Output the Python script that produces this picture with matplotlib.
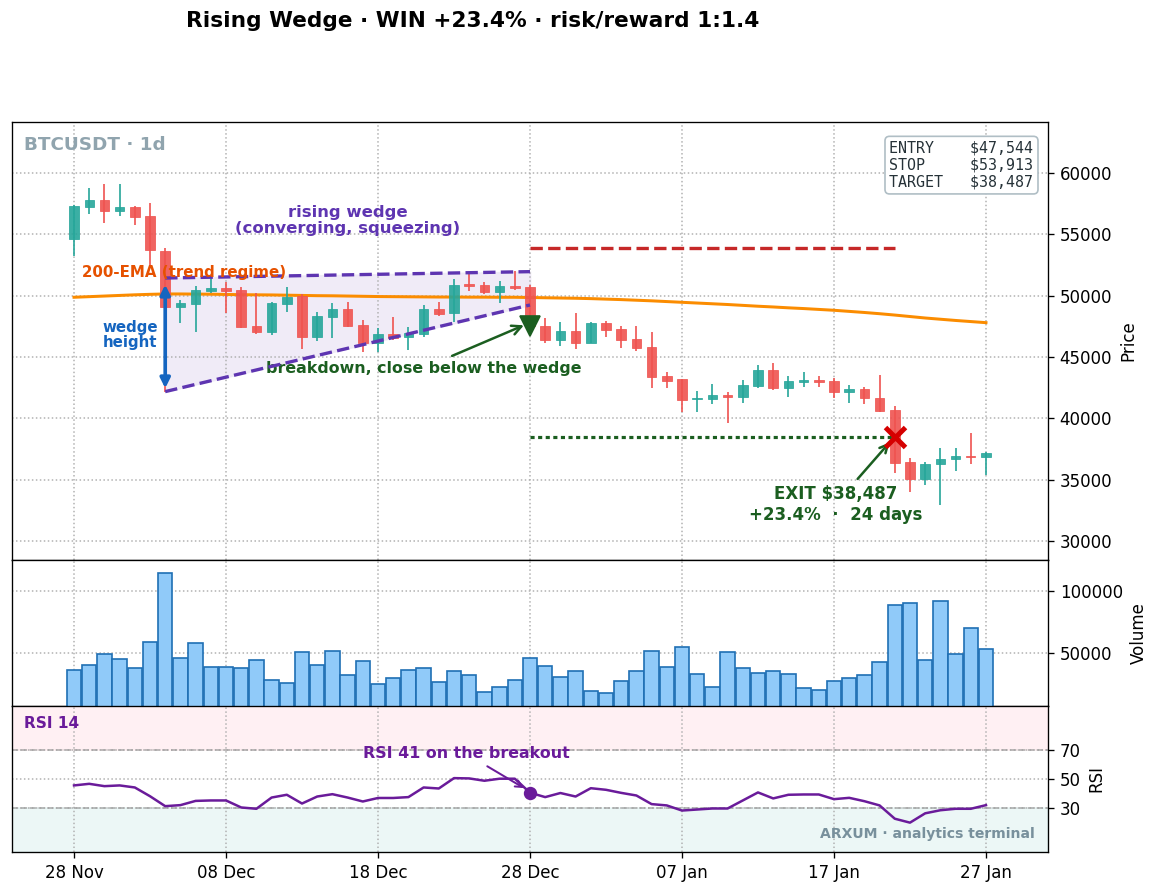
import matplotlib
matplotlib.use("Agg")
import matplotlib.pyplot as plt
import matplotlib.dates as mdates
import numpy as np
import pandas as pd

# ---- data ----
dates = pd.date_range("2021-11-28", periods=61, freq="D")

opens = [54650, 57250, 57800, 56930, 57230, 56500, 53640, 49100, 49320, 50410,
         50650, 50470, 47560, 47020, 49320, 49980, 46660, 48290, 48920, 47590,
         46120, 46880, 46660, 46880, 48920, 48570, 50930, 50870, 50330, 50790,
         50730, 47530, 46390, 47120, 46170, 47750, 47290, 46470, 45800, 43460,
         43190, 41560, 41610, 41910, 41770, 42670, 43940, 42500, 42990, 43130,
         43070, 42180, 42400, 41640, 40690, 36450, 35040, 36260, 36670, 36940,
         36830]
highs = [57400, 58800, 59100, 59080, 57320, 57580, 53860, 49650, 50820, 51420,
         51140, 50730, 50200, 49500, 50730, 50140, 48700, 49430, 49510, 48020,
         47340, 48290, 47470, 49240, 49510, 51340, 51830, 51140, 51200, 52040,
         50870, 48160, 47880, 48570, 47880, 47960, 47530, 47530, 47070, 43810,
         43190, 42260, 42780, 42130, 43130, 44350, 44490, 43460, 43760, 43460,
         43270, 42720, 42580, 43540, 41010, 36800, 36470, 37560, 37560, 38840,
         37250]
lows = [53240, 56660, 55950, 56500, 55760, 52400, 42180, 47750, 47070, 50200,
        48570, 47340, 46880, 46800, 48700, 45660, 46330, 46530, 47470, 45440,
        45440, 46390, 45580, 46660, 48350, 47880, 50410, 50140, 49430, 50470,
        47200, 46120, 45900, 45630, 46170, 46610, 45710, 45490, 42450, 42450,
        40550, 40550, 41170, 39600, 41230, 42450, 42320, 41720, 42540, 42540,
        41640, 41230, 41170, 40550, 35530, 34030, 34570, 32940, 35740, 36280,
        35390]
closes = [57310, 57800, 56930, 57230, 56440, 53700, 49100, 49430, 50470, 50650,
          50410, 47470, 47070, 49430, 49920, 46660, 48350, 48920, 47530, 46120,
          46880, 46530, 46940, 48890, 48510, 50870, 50820, 50280, 50790, 50630,
          47544, 46390, 47150, 46170, 47800, 47210, 46390, 45760, 43400, 43070,
          41500, 41690, 41910, 41770, 42720, 43940, 42500, 43050, 43130, 42990,
          42180, 42370, 41640, 40630, 36390, 35040, 36260, 36670, 36940, 36830,
          37210]
ema200 = [49870, 49920, 49970, 50020, 50070, 50110, 50140, 50140, 50130, 50120,
          50100, 50080, 50070, 50060, 50040, 50020, 50000, 49990, 49970, 49950,
          49930, 49920, 49910, 49900, 49890, 49890, 49880, 49880, 49870, 49870,
          49850, 49830, 49810, 49790, 49760, 49720, 49680, 49630, 49580, 49520,
          49460, 49400, 49340, 49280, 49210, 49140, 49080, 49010, 48950, 48880,
          48810, 48720, 48630, 48530, 48420, 48300, 48180, 48080, 47980, 47890,
          47800]
volume = [35990, 40110, 49180, 45060, 37640, 59070, 114280, 45880, 58240, 38460,
          38460, 37640, 44230, 28570, 26100, 50820, 40110, 51650, 31870, 43410,
          25280, 29400, 35990, 37640, 26930, 35170, 31870, 18680, 22800, 28570,
          45880, 39290, 30220, 35170, 19510, 17860, 27750, 35170, 51650, 38460,
          54940, 32690, 22800, 50820, 37640, 33520, 35170, 32690, 21970, 20330,
          27750, 29400, 31870, 42580, 88730, 90380, 44230, 92030, 49180, 69780,
          53300]
rsi = [45.6, 46.7, 45.1, 45.6, 44.2, 38.2, 31.4, 32.1, 35.0, 35.3,
       35.3, 30.5, 29.6, 37.3, 39.2, 33.2, 38.0, 39.6, 37.3, 34.6,
       37.0, 37.0, 37.6, 44.2, 43.5, 50.6, 50.4, 48.8, 50.2, 50.2,
       40.6, 37.6, 40.4, 38.0, 43.7, 42.6, 40.5, 38.7, 32.8, 31.9,
       28.4, 29.1, 29.8, 29.8, 35.3, 40.8, 36.7, 39.2, 39.4, 39.4,
       36.2, 37.1, 34.8, 31.9, 22.8, 20.1, 26.5, 28.6, 29.6, 29.6,
       32.1]

wedge_idx = [6, 30]
wedge_upper = [51440, 51960]
wedge_lower = [42180, 49240]
entry, stop, target = 47544, 53913, 38487
entry_idx, exit_idx = 30, 54

UP, DOWN = "#26a69a", "#ef5350"
PURPLE = "#5e35b1"
GREEN = "#1b5e20"
RSI_C = "#6a1b9a"

x = mdates.date2num(dates)
o, h, l, c = map(np.array, (opens, highs, lows, closes))
up = c >= o
cols = np.where(up, UP, DOWN)

fig = plt.figure(figsize=(1160 / 120, 894 / 120), dpi=120)
L, W = 12 / 1160, 1036 / 1160
ax = fig.add_axes([L, 1 - 560 / 894, W, 438 / 894])
axv = fig.add_axes([L, 1 - 706 / 894, W, 146 / 894], sharex=ax)
axr = fig.add_axes([L, 1 - 852 / 894, W, 146 / 894], sharex=ax)

# ---- price panel ----
ax.fill_between([x[i] for i in wedge_idx], wedge_lower, wedge_upper,
                color="#ede7f6", alpha=0.8, zorder=0)
ax.plot(x, ema200, color="#fb8c00", lw=1.8, zorder=2)
ax.vlines(x, l, h, color=cols, lw=1, zorder=3)
ax.bar(x, c - o, bottom=o, width=0.62, color=cols, edgecolor=cols,
       lw=0.5, alpha=0.9, zorder=4)
ax.plot([x[i] for i in wedge_idx], wedge_upper, color=PURPLE, ls="--", lw=2, zorder=5)
ax.plot([x[i] for i in wedge_idx], wedge_lower, color=PURPLE, ls="--", lw=2, zorder=5)

ax.plot([x[entry_idx], x[exit_idx]], [stop, stop], color="#c62828", ls="--", lw=2, zorder=5)
ax.plot([x[entry_idx], x[exit_idx]], [target, target], color=GREEN,
        ls=(0, (1.3, 1.1)), lw=1.9, zorder=5)
ax.plot(x[entry_idx], entry, marker="v", color=GREEN, ms=12, zorder=7)
ax.plot(x[exit_idx], target, marker="x", color="#d50000", ms=12, mew=3, zorder=7)

ax.annotate("", xy=(x[6], wedge_lower[0]), xytext=(x[6], wedge_upper[0]),
            arrowprops=dict(arrowstyle="<|-|>", color="#1565c0", lw=2.2,
                            mutation_scale=12, shrinkA=4, shrinkB=2), zorder=6)
ax.text(x[0] + 5.5, 46800, "wedge\nheight", color="#1565c0", fontsize=9,
        fontweight="bold", ha="right", va="center", linespacing=1.05)
ax.text(x[0] + 18.0, 56100, "rising wedge\n(converging, squeezing)", color=PURPLE,
        fontsize=9.9, fontweight="bold", ha="center", va="center", linespacing=1.1)
ax.text(x[0] + 0.5, 51850, "200-EMA (trend regime)", color="#e65100", fontsize=9,
        fontweight="bold", ha="left", va="center", zorder=6)
ax.annotate("breakdown, close below the wedge", xy=(x[entry_idx] - 0.2, entry + 150),
            xytext=(x[0] + 23.0, 44100), color=GREEN, fontsize=9.5, fontweight="bold",
            ha="center", va="center",
            arrowprops=dict(arrowstyle="->", color=GREEN, lw=1.5, mutation_scale=14))
ax.annotate("EXIT $38,487\n+23.4%  \u00b7  24 days", xy=(x[exit_idx] - 0.2, target - 250),
            xytext=(x[0] + 50.1, 33000), color=GREEN, fontsize=10, fontweight="bold",
            ha="center", va="center",
            arrowprops=dict(arrowstyle="->", color=GREEN, lw=1.5, mutation_scale=12))

ax.text(0.0116, 0.947, "BTCUSDT \u00b7 1d", transform=ax.transAxes, color="#90a4ae",
        fontsize=11, fontweight="bold", ha="left", va="center")
info = f"ENTRY    ${entry:,}\nSTOP     ${stop:,}\nTARGET   ${target:,}"
ax.text(0.986, 0.957, info, transform=ax.transAxes, family="DejaVu Sans Mono",
        fontsize=9, ha="right", va="top", color="#263238", linespacing=1.15,
        bbox=dict(boxstyle="round,pad=0.3", fc="white", ec="#b0bec5", lw=1))

ax.set_ylim(28450, 64160)
ax.set_ylabel("Price")

# ---- volume panel ----
axv.bar(x, volume, width=0.95, color="#90caf9", edgecolor="#1f6fb4", lw=1, zorder=3)
axv.set_ylim(7200, 125000)
axv.set_yticks([50000, 100000])
axv.set_ylabel("Volume")

# ---- RSI panel ----
axr.axhspan(70, 100, color="#ffebee", alpha=0.7, zorder=0)
axr.axhspan(0, 30, color="#e0f2f1", alpha=0.6, zorder=0)
axr.axhline(70, color="#9e9e9e", ls="--", lw=1, alpha=0.8)
axr.axhline(30, color="#9e9e9e", ls="--", lw=1, alpha=0.8)
axr.plot(x, rsi, color=RSI_C, lw=1.5, zorder=3)
axr.plot(x[entry_idx], rsi[entry_idx], "o", color=RSI_C, ms=7, zorder=4)
axr.annotate("RSI 41 on the breakout", xy=(x[entry_idx] - 0.2, rsi[entry_idx] + 2),
             xytext=(x[0] + 25.8, 67.3), color=RSI_C, fontsize=9.5, fontweight="bold",
             ha="center", va="center",
             arrowprops=dict(arrowstyle="->", color=RSI_C, lw=1.2, mutation_scale=10))
axr.text(0.0116, 0.877, "RSI 14", transform=axr.transAxes, color=RSI_C, fontsize=9.2,
         fontweight="bold", ha="left", va="center")
axr.text(0.987, 0.123, "ARXUM \u00b7 analytics terminal", transform=axr.transAxes,
         color="#78909c", fontsize=8.4, fontweight="bold", ha="right", va="center")
axr.set_ylim(0, 100)
axr.set_yticks([30, 50, 70])
axr.set_ylabel("RSI")

for a in (ax, axv, axr):
    a.yaxis.tick_right()
    a.yaxis.set_label_position("right")
    a.grid(True, ls=":", color="#b0b0b0", lw=0.9)
    a.set_axisbelow(True)
for a in (ax, axv):
    a.tick_params(labelbottom=False)

axr.set_xlim(x[0] - 4.08, x[0] + 64.08)
axr.set_xticks(x[::10])
axr.xaxis.set_major_formatter(mdates.DateFormatter("%d %b"))

fig.text(473 / 1160, 1 - 21 / 894, "Rising Wedge \u00b7 WIN +23.4% \u00b7 risk/reward 1:1.4",
         fontsize=13, fontweight="bold", ha="center", va="center")

fig.savefig("out.png", dpi=120)
